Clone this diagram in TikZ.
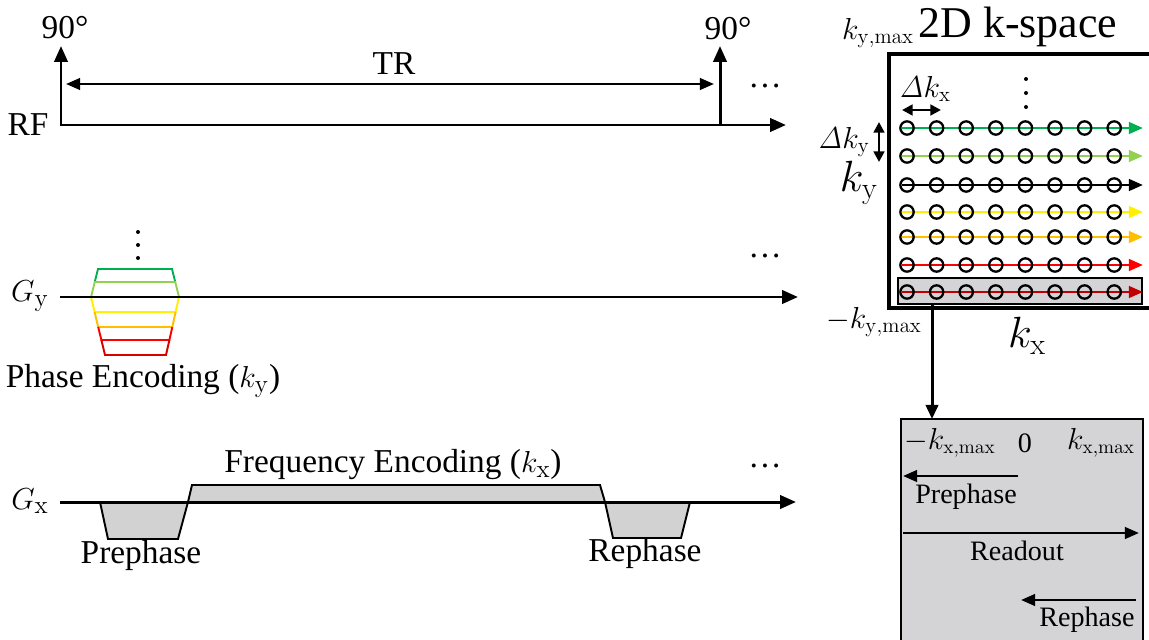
\documentclass[tikz,border=0pt]{standalone}
\usepackage[no-math]{fontspec}
\setmainfont{Liberation Serif}
\usetikzlibrary{positioning,arrows.meta}
\definecolor{kgreen}{RGB}{0,176,80}
\definecolor{klgreen}{RGB}{146,208,80}
\definecolor{kyellow}{RGB}{255,240,0}
\definecolor{korange}{RGB}{255,190,0}
\definecolor{kred}{RGB}{255,0,0}
\definecolor{kdred}{RGB}{192,0,0}
\definecolor{panel}{RGB}{212,211,213}

\begin{document}
\begin{tikzpicture}[x=0.02cm,y=-0.02cm,
  every node/.style={inner sep=0pt},
  lbl/.style={font=\fontsize{19}{21}\selectfont},
  small/.style={font=\fontsize{16}{18}\selectfont},
  big/.style={font=\fontsize{26}{28}\selectfont},
  axis/.style={line width=1.7pt,-{Triangle[length=9pt,width=7.5pt]}},
  pulse/.style={line width=1.7pt,-{Triangle[length=9pt,width=7.5pt]}},
  span/.style={line width=1.5pt,{Triangle[length=8pt,width=6.5pt]}-{Triangle[length=8pt,width=6.5pt]}},
  grad/.style={line width=1.1pt,fill=gray!35},
  pe/.style={line width=1.1pt},
  row/.style={line width=1.7pt,-{Triangle[length=8pt,width=6.5pt]}},
  sample/.style={circle,draw=black,line width=1.3pt,minimum size=7.6pt},
  traj/.style={line width=1.6pt,-{Triangle[length=8pt,width=6.5pt]}}
]
  \useasboundingbox (0,0) rectangle (1149,639);

  % RF line
  \coordinate (rf0) at (60,125);
  \coordinate (rf1) at (786,125);
  \coordinate (p1) at (61,125);
  \coordinate (p2) at (720,125);
  \coordinate (p1t) at (61,46);
  \coordinate (p2t) at (720,46);
  \coordinate (tr0) at (66,84);
  \coordinate (tr1) at (714,84);
  \draw[axis] (rf0) -- (rf1);
  \draw[pulse] (p1) -- (p1t);
  \draw[pulse] (p2) -- (p2t);
  \draw[span] (tr0) -- (tr1);
  \node[lbl] (rf) at (28,125) {RF};
  \node[lbl] (a1) at (65,28) {90°};
  \node[lbl] (a2) at (728,29) {90°};
  \node[lbl] (tr) at (394,64) {TR};
  \node[lbl] (d1) at (765,86) {\ldots};

  % phase encoding
  \coordinate (gy0) at (60,297);
  \coordinate (gy1) at (798,297);
  \foreach \col/\a/\b/\c/\d in {
      kgreen/{(94.75,282)}/{(98,269)}/{(172,269)}/{(175.25,282)},
      klgreen/{(91,297)}/{(94.75,282)}/{(175.25,282)}/{(179,297)},
      kyellow/{(91,297)}/{(94.6,312)}/{(175.6,312)}/{(179,297)},
      korange/{(94.6,312)}/{(98.2,327)}/{(172.3,327)}/{(175.6,312)},
      kred/{(98.2,327)}/{(101.4,340)}/{(169.4,340)}/{(172.3,327)},
      kred!85!black/{(101.4,340)}/{(105,355)}/{(166,355)}/{(169.4,340)}}
    \draw[pe,\col] \a -- \b -- \c -- \d;
  \draw[axis] (gy0) -- (gy1);
  \foreach \yy in {232,245,258} \fill (138,\yy) circle (2);
  \node[lbl] (gy) at (30,296) {$G_{\mathrm{y}}$};
  \node[lbl] (pe) at (143,381) {Phase Encoding ($k_{\mathrm{y}}$)};
  \node[lbl] (d2) at (765,256) {\ldots};

  % frequency encoding
  \coordinate (gx0) at (60,502);
  \coordinate (gx1) at (796,502);
  \draw[grad] (100,502) -- (108,539) -- (178,539) -- (188,502);
  \draw[grad] (188,502) -- (192,485) -- (600,485) -- (605,502);
  \draw[grad] (605,502) -- (613,538) -- (681,538) -- (690,502);
  \draw[axis] (gx0) -- (gx1);
  \node[lbl] (gx) at (30,501) {$G_{\mathrm{x}}$};
  \node[lbl] (fe) at (393,465) {Frequency Encoding ($k_{\mathrm{x}}$)};
  \node[lbl] (pre) at (141,555) {Prephase};
  \node[lbl] (rep) at (645,553) {Rephase};
  \node[lbl] (d3) at (765,466) {\ldots};

  % 2D k-space
  \fill[panel] (898,278) rectangle (1142,304);
  \draw[line width=1.1pt] (898,278) rectangle (1142,304);
  \foreach \yy/\col [count=\r] in {128/kgreen,156/klgreen,185/black,212/kyellow,237/korange,265/kred,292/kdred} {
    \draw[row,\col] (902,\yy) -- (1143,\yy);
    \foreach \i in {0,...,7}
      \node[sample] (s\r-\i) at ({907+29.6*\i},\yy) {};
  }
  \draw[line width=2.8pt] (1149,54) -- (889,54) -- (889,308) -- (1149,308);
  \foreach \yy in {79,93,107} \fill (1026,\yy) circle (2);
  \node[font=\fontsize{25}{27}\selectfont] (ks) at (1018,27) {2D k-space};
  \node[font=\fontsize{17}{19}\selectfont] (kym) at (878,33) {$k_{\mathrm{y,max}}$};
  \node[font=\fontsize{17}{19}\selectfont] (kymn) at (874,322) {$-k_{\mathrm{y,max}}$};
  \node[font=\fontsize{17}{19}\selectfont] (dkx) at (925,89) {$\mathit{\Delta} k_{\mathrm{x}}$};
  \node[font=\fontsize{17}{19}\selectfont] (dky) at (844,142) {$\mathit{\Delta} k_{\mathrm{y}}$};
  \coordinate (dkx0) at (902,110);
  \coordinate (dkx1) at (941,110);
  \coordinate (dky0) at (879,122);
  \coordinate (dky1) at (879,162);
  \draw[line width=1.5pt,{Triangle[length=6pt,width=6pt]}-{Triangle[length=6pt,width=6pt]}] (dkx0) -- (dkx1);
  \draw[line width=1.5pt,{Triangle[length=6pt,width=6pt]}-{Triangle[length=6pt,width=6pt]}] (dky0) -- (dky1);
  \node[big] (ky) at (859,183) {$k_{\mathrm{y}}$};
  \node[big] (kx) at (1027,336) {$k_{\mathrm{x}}$};

  % readout line detail
  \coordinate (lk) at (932,304);
  \fill[panel] (901,419) rectangle (1143,641);
  \draw[line width=1.1pt] (901,641) -- (901,419) -- (1143,419) -- (1143,641);
  \coordinate (bx) at (932,419);
  \draw[line width=1.7pt,-{Triangle[length=8pt,width=7pt]}] (lk) -- (bx);
  \node[small] (kxmn) at (950,443) {$-k_{\mathrm{x,max}}$};
  \node[small] (zero) at (1025,443) {0};
  \node[small] (kxm) at (1101,443) {$k_{\mathrm{x,max}}$};
  \coordinate (pr0) at (1018,476);
  \coordinate (pr1) at (903,476);
  \coordinate (ro0) at (903,533);
  \coordinate (ro1) at (1139,533);
  \coordinate (re0) at (1136,600);
  \coordinate (re1) at (1021,600);
  \draw[traj] (pr0) -- (pr1);
  \draw[traj] (ro0) -- (ro1);
  \draw[traj] (re0) -- (re1);
  \node[small] (tpre) at (966,497) {Prephase};
  \node[small] (tro) at (1017,551) {Readout};
  \node[small] (tre) at (1087,620) {Rephase};
\end{tikzpicture}
\end{document}
